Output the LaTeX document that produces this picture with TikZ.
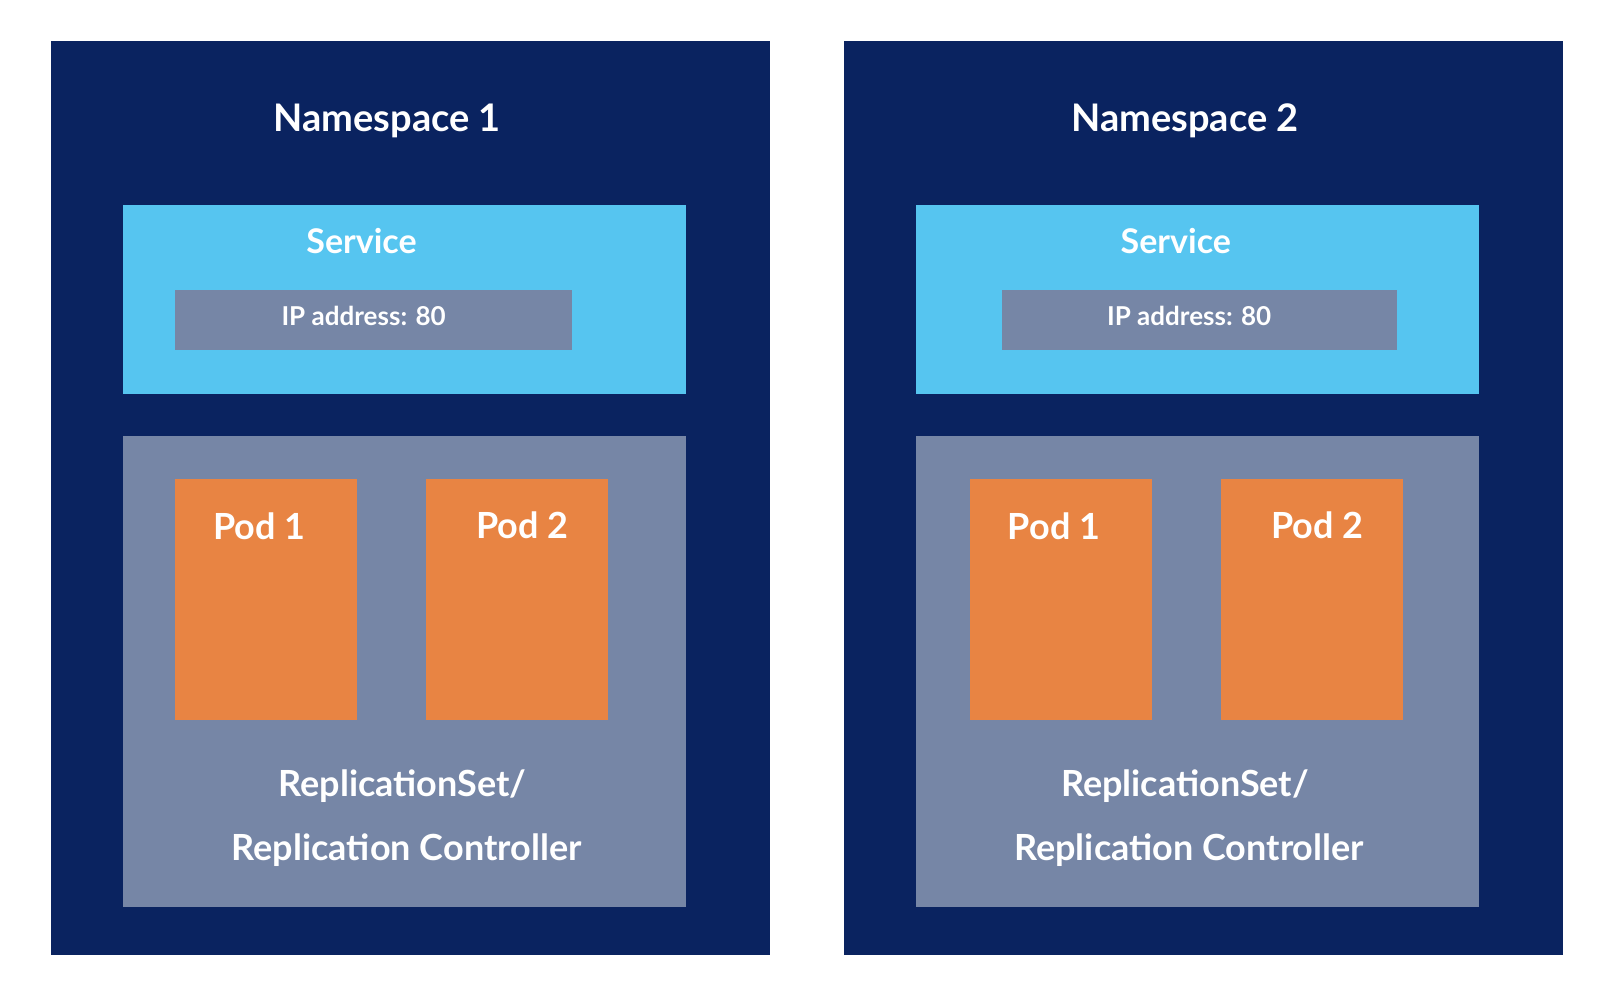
\documentclass[tikz,border=0pt]{standalone}
\usepackage{fontspec}
\setmainfont{Lato}
\definecolor{navy}{HTML}{0A2360}
\definecolor{sky}{HTML}{56C5F0}
\definecolor{slate}{HTML}{7686A6}
\definecolor{pod}{HTML}{E88443}
\begin{document}
\begin{tikzpicture}[x=1.024pt,y=-1.024pt,
  box/.style={inner sep=0pt,outer sep=0pt},
  lbl/.style={text=white,font=\bfseries,inner sep=0pt}]
\useasboundingbox[fill=white] (0,0) rectangle (1568,984);
\foreach \n/\ox/\tx/\sx/\ipa/\ipb/\ipt/\pa/\rx in {1/0/378/353/171/558/355/171/393,2/774/1157/1148/978/1364/1161/947/1157}{
  \fill[navy] (50+\ox,40) rectangle (752+\ox,932);
  \node[lbl,font=\fontsize{38}{40}\selectfont\bfseries] (t\n) at (\tx,118) {Namespace \n};
  \fill[sky] (120+\ox,200) rectangle (670+\ox,385);
  \node[lbl,font=\fontsize{34}{36}\selectfont\bfseries] (s\n) at (\sx,235) {Service};
  \fill[slate] (\ipa,283) rectangle (\ipb,342);
  \node[lbl,font=\fontsize{26}{28}\selectfont\bfseries] (ip\n) at (\ipt,308) {IP address: 80};
  \fill[slate] (120+\ox,426) rectangle (670+\ox,886);
  \fill[pod] (\pa,468) rectangle (\pa+178,703);
  \fill[pod] (\pa+245,468) rectangle (\pa+423,703);
  \node[lbl,font=\fontsize{36}{38}\selectfont\bfseries] (pa\n) at (\pa+82,514) {Pod 1};
  \node[lbl,font=\fontsize{36}{38}\selectfont\bfseries] (pb\n) at (\pa+339,513) {Pod 2};
  \node[lbl,font=\fontsize{36}{38}\selectfont\bfseries] (r\n) at (\rx,768) {ReplicationSet/};
  \node[lbl,font=\fontsize{36}{38}\selectfont\bfseries] (rc\n) at (\rx+4,830) {Replication Controller};
}
\end{tikzpicture}
\end{document}
